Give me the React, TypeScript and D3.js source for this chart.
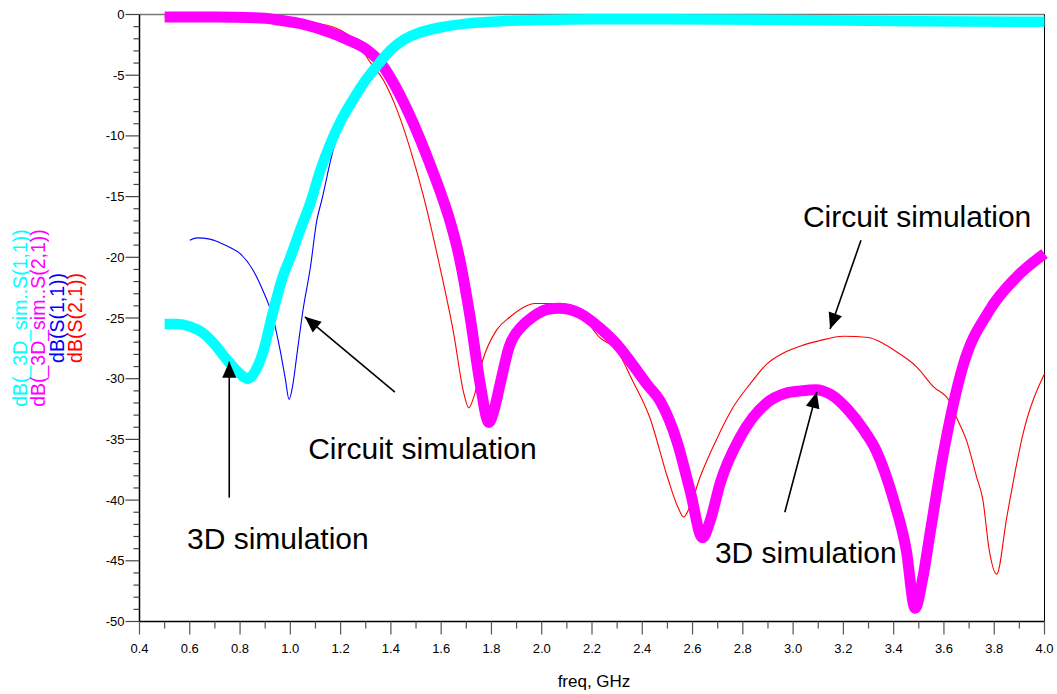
import React from "react";
import * as d3 from "d3";

// Frequency axis (GHz) and magnitude axis (dB)
const xTicksMajor = [0.4, 0.6, 0.8, 1.0, 1.2, 1.4, 1.6, 1.8, 2.0, 2.2, 2.4, 2.6, 2.8, 3.0, 3.2, 3.4, 3.6, 3.8, 4.0];
const yTicksMajor = [0, -5, -10, -15, -20, -25, -30, -35, -40, -45, -50];

// 3D simulation, S(1,1)
const sim3dS11Freq = [0.5, 0.55, 0.6, 0.65, 0.7, 0.75, 0.8, 0.83, 0.86, 0.89, 0.93, 0.97, 1.0, 1.04, 1.08, 1.12, 1.16, 1.2, 1.25, 1.3, 1.35, 1.4, 1.45, 1.5, 1.6, 1.7, 1.8, 1.9, 2.0, 2.2, 2.5, 3.0, 3.5, 4.0];
const sim3dS11dB = [-25.5, -25.5, -25.7, -26.2, -27.2, -28.5, -29.6, -30.0, -29.4, -27.9, -24.6, -21.6, -20.0, -17.7, -15.5, -12.8, -10.6, -8.8, -7.0, -5.4, -4.1, -2.9, -2.1, -1.6, -1.05, -0.75, -0.6, -0.5, -0.45, -0.4, -0.4, -0.45, -0.55, -0.6];

// 3D simulation, S(2,1)
const sim3dS21Freq = [0.5, 0.7, 0.9, 0.95, 1.05, 1.16, 1.23, 1.29, 1.36, 1.42, 1.49, 1.555, 1.6, 1.635, 1.67, 1.715, 1.755, 1.79, 1.81, 1.835, 1.87, 1.92, 1.965, 2.02, 2.07, 2.15, 2.23, 2.3, 2.36, 2.42, 2.47, 2.54, 2.59, 2.64, 2.67, 2.71, 2.79, 2.895, 2.97, 3.03, 3.09, 3.15, 3.22, 3.28, 3.33, 3.4, 3.45, 3.485, 3.515, 3.545, 3.6, 3.675, 3.78, 3.89, 4.0];
const sim3dS21dB = [-0.2, -0.2, -0.3, -0.45, -0.8, -1.5, -2.1, -2.7, -4.0, -6.0, -9.0, -12.3, -14.8, -17.0, -19.8, -24.9, -30.4, -33.6, -32.6, -30.4, -27.4, -25.7, -24.9, -24.3, -24.2, -24.6, -25.8, -27.2, -28.8, -30.5, -31.8, -35.3, -39.2, -43.1, -41.7, -38.6, -34.8, -32.0, -31.2, -31.0, -30.9, -31.3, -32.6, -34.2, -35.9, -40.0, -44.1, -48.9, -46.5, -42.7, -35.9, -29.0, -24.4, -21.6, -19.7];

// Circuit simulation, S(1,1)
const circS11Freq = [0.6, 0.63, 0.68, 0.72, 0.76, 0.8, 0.85, 0.89, 0.93, 0.96, 0.98, 0.995, 1.01, 1.025, 1.05, 1.08, 1.105, 1.125, 1.17, 1.22, 1.3, 1.37, 1.42, 1.5, 1.6, 1.8, 2.0, 2.5, 3.0, 3.5, 4.0];
const circS11dB = [-18.6, -18.4, -18.5, -18.8, -19.2, -19.7, -21.0, -22.7, -24.9, -27.7, -30.0, -31.7, -30.5, -28.2, -24.4, -20.8, -17.0, -15.3, -11.2, -8.3, -5.3, -3.3, -2.4, -1.6, -1.0, -0.6, -0.45, -0.4, -0.45, -0.55, -0.6];

// Circuit simulation, S(2,1)
const circS21Freq = [0.5, 0.9, 1.0, 1.1, 1.2, 1.26, 1.32, 1.37, 1.425, 1.49, 1.53, 1.595, 1.65, 1.69, 1.71, 1.73, 1.765, 1.82, 1.875, 1.94, 1.97, 2.05, 2.1, 2.16, 2.23, 2.3, 2.36, 2.43, 2.5, 2.54, 2.565, 2.59, 2.63, 2.7, 2.76, 2.83, 2.895, 2.96, 3.03, 3.1, 3.2, 3.3, 3.358, 3.42, 3.49, 3.56, 3.62, 3.65, 3.69, 3.73, 3.755, 3.78, 3.81, 3.85, 3.915, 4.0];
const circS21dB = [-0.2, -0.25, -0.4, -0.7, -1.3, -2.2, -4.0, -5.4, -7.9, -12.0, -15.0, -20.8, -26.3, -31.2, -32.4, -31.5, -28.5, -26.0, -24.9, -24.0, -23.8, -23.8, -23.9, -24.8, -26.6, -27.7, -30.1, -33.2, -38.1, -40.5, -41.4, -40.5, -38.1, -34.8, -32.4, -30.4, -28.8, -27.9, -27.3, -26.9, -26.5, -26.6, -27.1, -27.9, -29.0, -30.7, -31.8, -33.2, -35.1, -38.1, -40.0, -44.1, -46.1, -41.4, -34.5, -29.6];

// Legend entries
const legendLabels = ["dB(_3D_sim..S(1,1))", "dB(_3D_sim..S(2,1))", "dB(S(1,1))", "dB(S(2,1))"];
const legendColors = ["#00ffff", "#ff00ff", "#0000ff", "#ff0000"];

// Callout texts and arrows, in data units (GHz, dB)
const calloutTexts = [
  { text: "Circuit simulation", f: 1.071, db: -36.6 },
  { text: "3D simulation", f: 0.589, db: -44.0 },
  { text: "3D simulation", f: 2.689, db: -45.2 },
  { text: "Circuit simulation", f: 3.039, db: -17.5 },
];
const calloutArrows = [
  { f0: 0.757, db0: -39.8, f1: 0.757, db1: -28.6 },
  { f0: 1.416, db0: -31.1, f1: 1.058, db1: -24.9 },
  { f0: 3.27, db0: -18.6, f1: 3.147, db1: -25.9 },
  { f0: 2.967, db0: -41.0, f1: 3.094, db1: -31.1 },
];

const W = 1057;
const H = 694;
const left = 139.5;
const right = 1044.5;
const top = 14.5;
const bottom = 621.5;
const FONT = "'Liberation Sans', Arial, Helvetica, sans-serif";

export default function App() {
  const x = d3.scaleLinear().domain([0.4, 4.0]).range([left, right]);
  const y = d3.scaleLinear().domain([0, -50]).range([top, bottom]);

  const line = d3
    .line<[number, number]>()
    .x((d) => x(d[0]))
    .y((d) => y(d[1]))
    .curve(d3.curveMonotoneX);

  const zip = (f: number[], v: number[]) => f.map((fi, i) => [fi, v[i]] as [number, number]);

  const xMinor = d3.range(5, 40, 2).map((v) => v / 10);
  const yMinor = d3.range(0, 51).filter((v) => v % 5 !== 0).map((v) => -v);

  const arrowHead = (x0: number, y0: number, x1: number, y1: number) => {
    const ang = Math.atan2(y1 - y0, x1 - x0);
    const len = 16;
    const half = 7;
    const bx = x1 - len * Math.cos(ang);
    const by = y1 - len * Math.sin(ang);
    const px = -Math.sin(ang) * half;
    const py = Math.cos(ang) * half;
    return `M${x1},${y1}L${bx + px},${by + py}L${bx - px},${by - py}Z`;
  };

  return (
    <svg
      width={W}
      height={H}
      style={{ position: "absolute", left: 0, top: 0, background: "#fff" }}
      fontFamily={FONT}
    >
      {/* frame */}
      <line x1={left} y1={top} x2={right} y2={top} stroke="#777" strokeWidth={1.5} />
      <line x1={right} y1={top} x2={right} y2={bottom} stroke="#000" strokeWidth={1} />
      <line x1={left} y1={top} x2={left} y2={bottom} stroke="#000" strokeWidth={1.5} />
      <line x1={left} y1={bottom} x2={right} y2={bottom} stroke="#000" strokeWidth={1.5} />

      {/* y ticks */}
      {yMinor.map((v) => (
        <line key={"ym" + v} x1={left - 6} x2={left} y1={y(v)} y2={y(v)} stroke="#444" strokeWidth={1.2} />
      ))}
      {yTicksMajor.map((v) => (
        <g key={"y" + v}>
          <line x1={left - 14} x2={left} y1={y(v)} y2={y(v)} stroke="#444" strokeWidth={1.2} />
          <text x={left - 15} y={y(v)} dy="0.35em" textAnchor="end" fontSize={13} fill="#000">
            {v}
          </text>
        </g>
      ))}

      {/* x ticks */}
      {xMinor.map((v) => (
        <line key={"xm" + v} x1={x(v)} x2={x(v)} y1={bottom} y2={bottom + 7} stroke="#555" strokeWidth={1.2} />
      ))}
      {xTicksMajor.map((v) => (
        <g key={"x" + v}>
          <line x1={x(v)} x2={x(v)} y1={bottom} y2={bottom + 13} stroke="#555" strokeWidth={1.2} />
          <text x={x(v)} y={bottom + 31} textAnchor="middle" fontSize={13} fill="#000">
            {v.toFixed(1)}
          </text>
        </g>
      ))}
      <text x={594} y={687} textAnchor="middle" fontSize={17} fill="#000">
        freq, GHz
      </text>

      {/* legend, rotated */}
      {legendLabels.map((t, i) => (
        <text
          key={t}
          transform={`translate(${27 + i * 18.3},318) rotate(-90)`}
          textAnchor="middle"
          fontSize={19.5}
          fill={legendColors[i]}
        >
          {t}
        </text>
      ))}

      {/* traces */}
      <path d={line(zip(circS21Freq, circS21dB)) || ""} fill="none" stroke="#ff0000" strokeWidth={1.1} />
      <path d={line(zip(circS11Freq, circS11dB)) || ""} fill="none" stroke="#0000ff" strokeWidth={1.1} />
      <path
        d={line(zip(sim3dS21Freq, sim3dS21dB)) || ""}
        fill="none"
        stroke="#ff00ff"
        strokeWidth={11}
        strokeLinejoin="round"
      />
      <path
        d={line(zip(sim3dS11Freq, sim3dS11dB)) || ""}
        fill="none"
        stroke="#00ffff"
        strokeWidth={10.5}
        strokeLinejoin="round"
      />

      {/* callouts */}
      {calloutArrows.map((a, i) => {
        const x0 = x(a.f0), y0 = y(a.db0), x1 = x(a.f1), y1 = y(a.db1);
        return (
          <g key={"a" + i}>
            <line x1={x0} y1={y0} x2={x1} y2={y1} stroke="#000" strokeWidth={1.6} />
            <path d={arrowHead(x0, y0, x1, y1)} fill="#000" />
          </g>
        );
      })}
      {calloutTexts.map((c, i) => (
        <text key={"c" + i} x={x(c.f)} y={y(c.db)} fontSize={30} fill="#000">
          {c.text}
        </text>
      ))}
    </svg>
  );
}
